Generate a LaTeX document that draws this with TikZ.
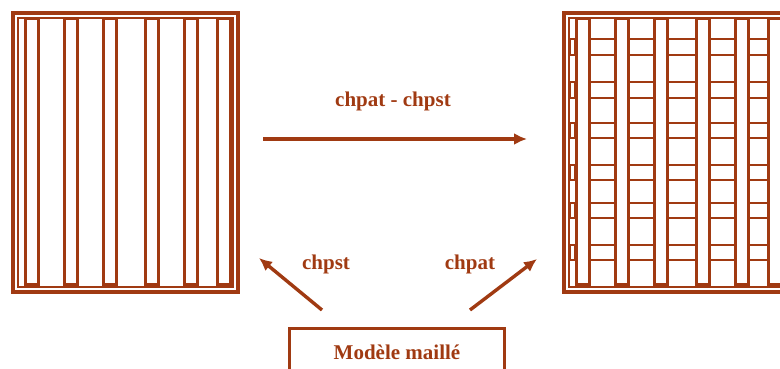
\documentclass[tikz,border=0pt]{standalone}
\usepackage{fontspec}
\setmainfont{Liberation Serif}
\usetikzlibrary{arrows.meta}
\definecolor{brique}{RGB}{160,58,18}

\tikzset{
  cadre/.style={draw=brique, line width=3.4pt},
  cadreint/.style={draw=brique, line width=2.4pt},
  barre/.style={draw=brique, line width=3pt},
  barreau/.style={draw=brique, line width=2.4pt},
  fleche/.style={draw=brique, line width=3.4pt, -{Latex[length=13pt,width=12pt]}},
  etiq/.style={text=brique, font=\fontsize{21}{24}\selectfont\bfseries, inner sep=0pt},
  boite/.style={draw=brique, line width=3pt, text=brique, minimum width=215pt,
    minimum height=48pt, font=\fontsize{21}{24}\selectfont\bfseries},
}

\begin{document}
\begin{tikzpicture}[x=1pt,y=-1pt]

\useasboundingbox (0,0) rectangle (780,369);
\clip (0,0) rectangle (780,369);

% panneau gauche
\draw[cadre] (13,13) rectangle (238,292);
\draw[cadreint] (18,18) rectangle (233,287);
\foreach \xa\xb in {25/38,64/77,103/116,145/158,184/197,217/230}
\draw[barre] (\xa,19) rectangle (\xb,284);

% panneau droit (maillé)
\begin{scope}[xshift=551pt]
\draw[cadre] (13,13) rectangle (238,292);
\draw[cadreint] (18,18) rectangle (233,287);
\foreach \xa\xb in {25/38,64/77,103/116,145/158,184/197,217/230}
\draw[barre] (\xa,19) rectangle (\xb,284);

\foreach \ya in {39,55,82,98,123,138,165,180,203,218,245,260}
\foreach \xa\xb in {38/64,77/103,116/145,158/184,197/217}
\draw[barreau] (\xa,\ya) -- (\xb,\ya);

\foreach \ya\yb in {39/55,82/98,123/138,165/180,203/218,245/260}
\draw[barreau] (19,\ya) rectangle (24,\yb);
\end{scope}

% fleches et textes
\coordinate (gauche) at (263,139);
\coordinate (droite) at (527,139);
\draw[fleche] (gauche) -- (droite);
\node[etiq] (diff) at (393,101) {chpat - chpst};

\node[boite] (modele) at (397,352) {Modèle maillé};

\coordinate (depg) at (322,310);
\coordinate (fing) at (259,258);
\coordinate (depd) at (470,310);
\coordinate (find) at (537,259);
\draw[fleche] (depg) -- (fing);
\draw[fleche] (depd) -- (find);
\node[etiq] (pst) at (326,264) {chpst};
\node[etiq] (pat) at (470,264) {chpat};

\end{tikzpicture}
\end{document}
